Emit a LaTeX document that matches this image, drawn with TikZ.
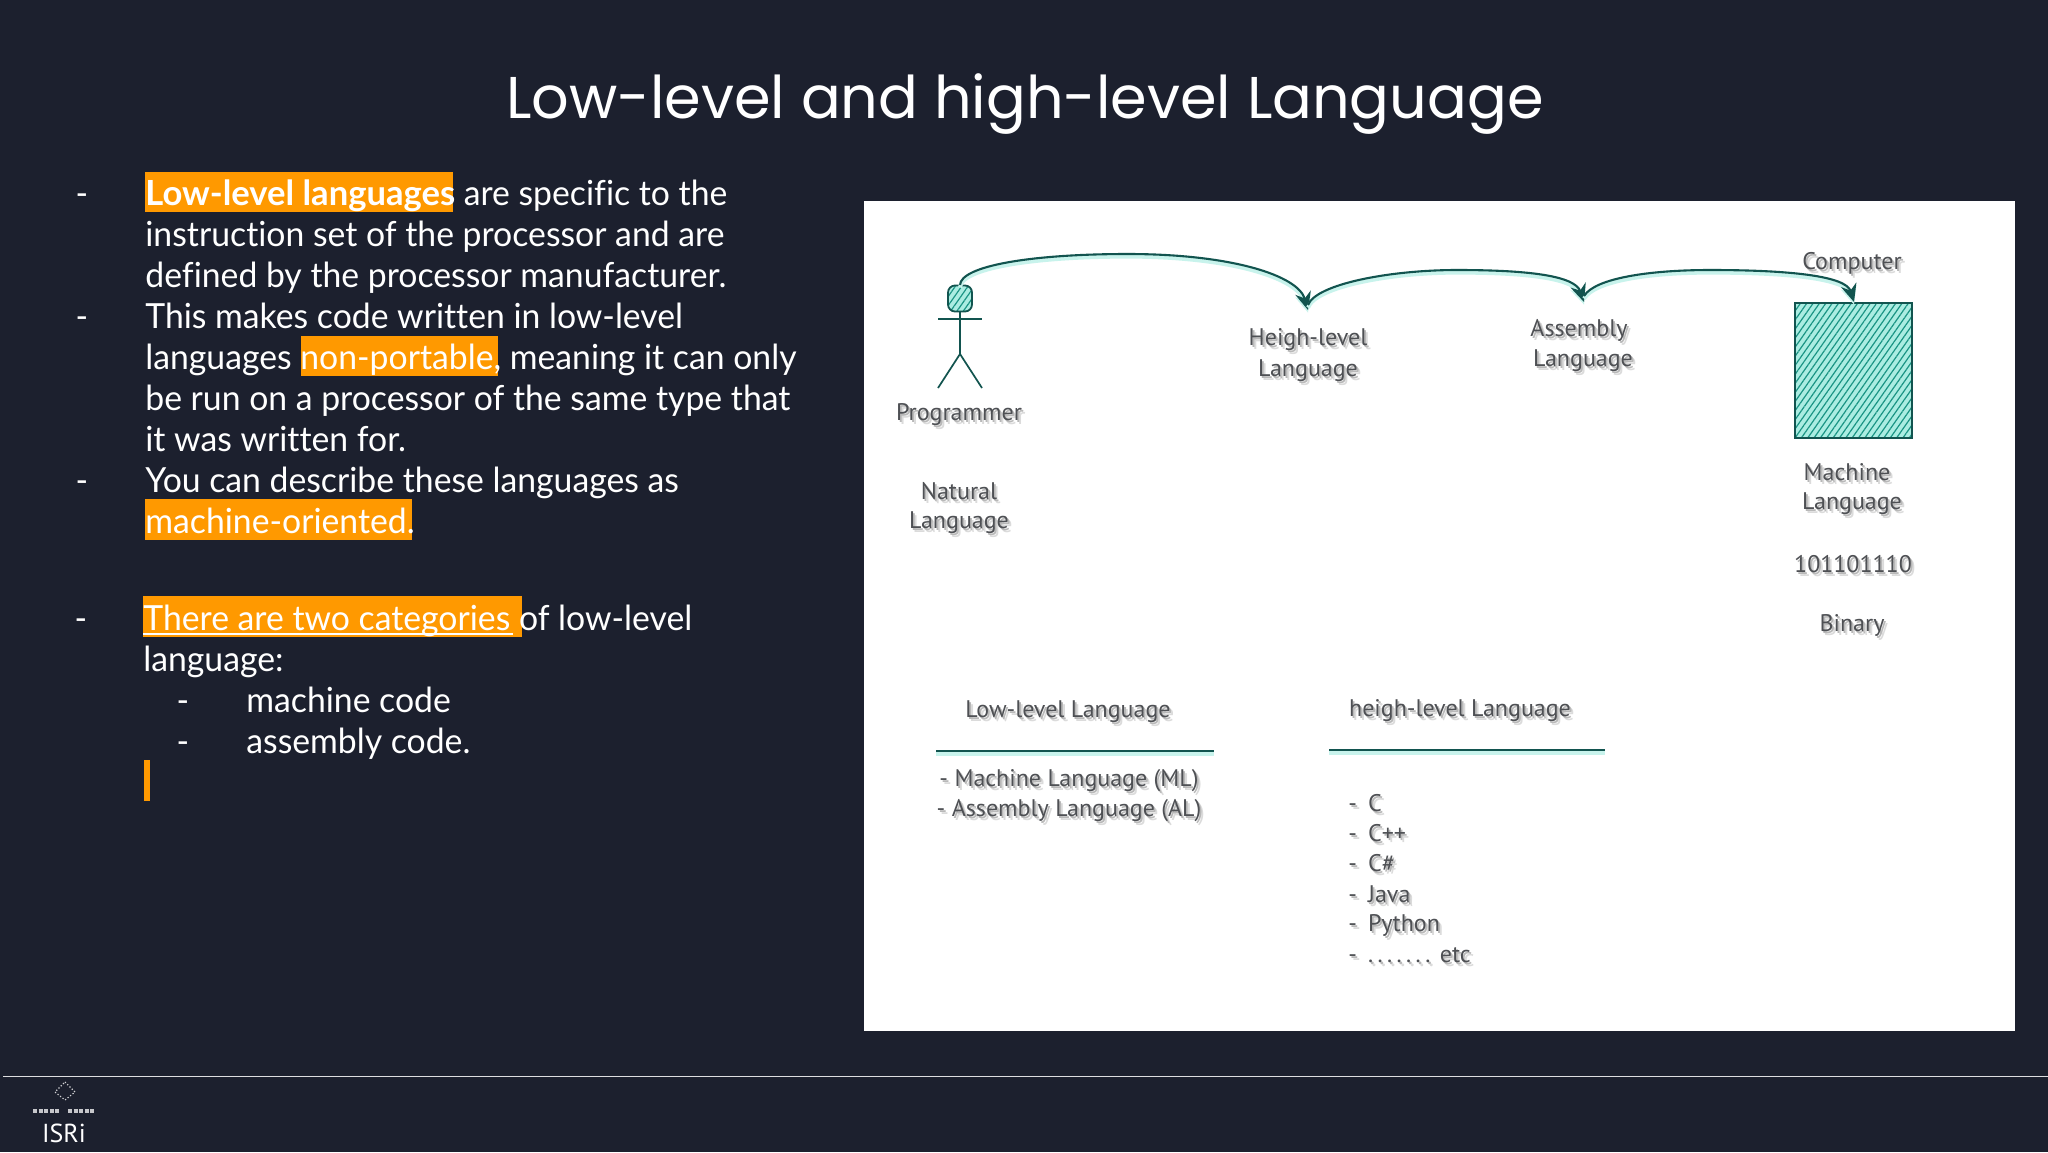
\documentclass[tikz,border=0pt]{standalone}
\usepackage{fontspec}
\usetikzlibrary{arrows.meta,patterns.meta,shapes.geometric}
\setmainfont[FakeStretch=0.975,Ligatures=NoCommon,BoldFeatures={FakeStretch=1}]{Lato}
\newfontfamily\titlefont{Poppins}
\newfontfamily\handfont{PT Sans}
\definecolor{slidebg}{HTML}{1C202E}
\definecolor{markorange}{HTML}{FF9900}
\definecolor{inkteal}{HTML}{12544F}
\definecolor{hatchteal}{HTML}{1A9484}
\definecolor{paleteal}{HTML}{ABEDE2}
\definecolor{handgrey}{HTML}{4E5054}
\newcommand{\sh}[1]{\leavevmode\rlap{\kern1.8pt\raisebox{-2pt}{\color{black!14}#1}}\rlap{\kern0.9pt\raisebox{-1pt}{\color{black!28}#1}}#1}
\newcommand{\dotk}{.\kern2.2pt}
\tikzset{
  x=0.5pt,y=-0.5pt,
  body/.style={anchor=base west,text=white,inner sep=0pt,font=\fontsize{17.3}{20}\selectfont},
  dashmark/.style={anchor=base,text=white,inner sep=0pt,font=\fontsize{17.3}{20}\selectfont},
  hand/.style={anchor=center,text=handgrey,inner sep=0pt,align=center,font=\handfont\fontsize{12}{14}\selectfont},
  handl/.style={hand,anchor=west},
  flow/.style={draw=inkteal,line width=1.05pt,-{Stealth[length=9pt,width=8pt,inset=3pt]},
    preaction={draw=paleteal!65,line width=2pt,transform canvas={yshift=-1.3pt}}},
  rulerline/.style={draw=inkteal,line width=1.2pt,preaction={draw=paleteal!65,line width=2.4pt,transform canvas={yshift=-1.4pt}}},
  stick/.style={draw=inkteal,line width=0.85pt},
  hatched/.style={draw=inkteal,line width=0.9pt,preaction={fill=paleteal},pattern={Lines[angle=55,distance=2.6pt,line width=0.6pt]},pattern color=hatchteal},
}
\begin{document}
\begin{tikzpicture}
\useasboundingbox (0,0) rectangle (2048,1152);
\fill[slidebg] (0,0) rectangle (2048,1152);

% title
\node[anchor=center,text=white,inner sep=0pt,font=\titlefont\fontsize{29.45}{32}\selectfont] (title) at (1025,104) {Low-level and high-level Language};

% highlights
\fill[markorange] (144.5,172) rectangle (453,212);
\fill[markorange] (301,336) rectangle (498,376);
\fill[markorange] (145,499) rectangle (412,540);
\fill[markorange] (143,596) rectangle (521.5,637);
\fill[markorange] (143.5,760) rectangle (149.5,801);

% left text
\node[dashmark] (d1) at (82,205) {-};
\node[dashmark] (d2) at (82,328) {-};
\node[dashmark] (d3) at (82,492) {-};
\node[dashmark] (d4) at (81,630) {-};
\node[dashmark] (d5) at (183,712) {-};
\node[dashmark] (d6) at (183,753) {-};
\node[body] (l1) at (145,205) {\textbf{Low-level languages} are specific to the};
\node[body] (l2) at (145,246) {instruction set of the processor and are};
\node[body] (l3) at (145,287) {defined by the processor manufacturer.};
\node[body] (l4) at (145,328) {This makes code written in low-level};
\node[body] (l5) at (145,369) {languages non-portable, meaning it can only};
\node[body] (l6) at (145,410) {be run on a processor of the same type that};
\node[body] (l7) at (145,451) {it was written for.};
\node[body] (l8) at (145,492) {You can describe these languages as};
\node[body] (l9) at (145,533) {machine-oriented.};
\node[body] (l10) at (143,630) {There are two categories of low-level};
\draw[white,line width=0.7pt] (143,634) -- (513,634);
\node[body] (l11) at (143,671) {language:};
\node[body] (l12) at (246,712) {machine code};
\node[body] (l13) at (246,753) {assembly code.};

% panel
\fill[white] (864,201) rectangle (2015,1031);

% programmer
\node[hatched,rounded corners=3.5pt,minimum width=12pt,minimum height=13pt,inner sep=0pt] (head) at (960,298.5) {};
\coordinate (armL) at (938,319);
\coordinate (armR) at (982,319);
\coordinate (hip) at (960,354);
\coordinate (footL) at (938,388);
\coordinate (footR) at (982,388);
\draw[stick] (head.south) -- (hip);
\draw[stick] (armL) -- (armR);
\draw[stick] (footL) -- (hip) -- (footR);

% computer
\node[hatched,anchor=north west,minimum width=58.5pt,minimum height=67.5pt,inner sep=0pt] (computer) at (1794,302) {};

% labels
\node[hand] (programmer) at (959,417) {\sh{Programmer}};
\node[hand] (natural) at (959,493) {\sh{Natural}};
\node[hand] (naturalb) at (959,525) {\sh{Language}};
\node[hand] (heigh) at (1308,342) {\sh{Heigh-level}};
\node[hand] (heighb) at (1308,373) {\sh{Language}};
\node[hand] (assembly) at (1579,332) {\sh{Assembly}};
\node[hand] (assemblyb) at (1583,363) {\sh{Language}};
\node[hand] (computerlabel) at (1852,265) {\sh{Computer}};
\node[hand] (machine) at (1847,474) {\sh{Machine}};
\node[hand] (machineb) at (1852,506) {\sh{Language}};
\node[hand] (binarynum) at (1853,566) {\sh{101101110}};
\node[hand] (binary) at (1852,627) {\sh{Binary}};

% connectors
\coordinate (tipH) at (1308,310);
\coordinate (tipA) at (1584,302);
\coordinate (tipC) at (1854,302);
\coordinate (topH) at (1128,254);
\coordinate (topA) at (1457,270);
\coordinate (topC) at (1710,270);
\draw[flow] (head.north) .. controls (961,266) and (1030,254) .. (topH) .. controls (1230,254) and (1298,275) .. (tipH);
\draw[flow] ([yshift=2.5pt]tipH) .. controls (1316,284) and (1390,270) .. (topA) .. controls (1530,270) and (1575,276) .. (tipA);
\draw[flow] ([yshift=3pt]tipA) .. controls (1595,278) and (1650,270) .. (topC) .. controls (1790,270) and (1846,276) .. (tipC);

% lists
\node[hand] (lowtitle) at (1068,714) {\sh{Low-level Language}};
\coordinate (lowL) at (936,751);
\coordinate (lowR) at (1214,751);
\draw[rulerline] (lowL) -- (lowR);
\node[hand] (ml) at (1069,783) {\sh{- Machine Language (ML)}};
\node[hand] (al) at (1069,813) {\sh{- Assembly Language (AL)}};
\node[hand] (hightitle) at (1460,713) {\sh{heigh-level Language}};
\coordinate (highL) at (1329,750);
\coordinate (highR) at (1605,750);
\draw[rulerline] (highL) -- (highR);
\node[handl] (h1) at (1348,805) {\sh{-\kern5.5pt C}};
\node[handl] (h2) at (1348,835) {\sh{-\kern5.5pt C++}};
\node[handl] (h3) at (1348,865) {\sh{-\kern5.5pt C\#}};
\node[handl] (h4) at (1348,896) {\sh{-\kern5.5pt Java}};
\node[handl] (h5) at (1348,927) {\sh{-\kern5.5pt Python}};
\node[handl] (h6) at (1348,957) {\sh{-\kern5.5pt \dotk\dotk\dotk\dotk\dotk\dotk\dotk\kern2.5pt etc}};

% footer
\coordinate (footA) at (3,1076.5);
\coordinate (footB) at (2048,1076.5);
\draw[white!85!slidebg,line width=0.9pt] (footA) -- (footB);
\draw[white!80!slidebg,line width=0.6pt,densely dotted] (65,1082) -- (75,1092) -- (65,1100) -- (55,1092) -- cycle;
\draw[white!75!slidebg,line width=2.4pt,dash pattern=on 2pt off 0.8pt] (33,1111) -- (60,1111);
\draw[white!75!slidebg,line width=2.4pt,dash pattern=on 2pt off 0.8pt] (68,1111) -- (95,1111);
\node[anchor=center,text=white,inner sep=0pt,font=\handfont\fontsize{13}{14}\selectfont] (logo) at (64,1133) {ISRi};
\end{tikzpicture}
\end{document}
